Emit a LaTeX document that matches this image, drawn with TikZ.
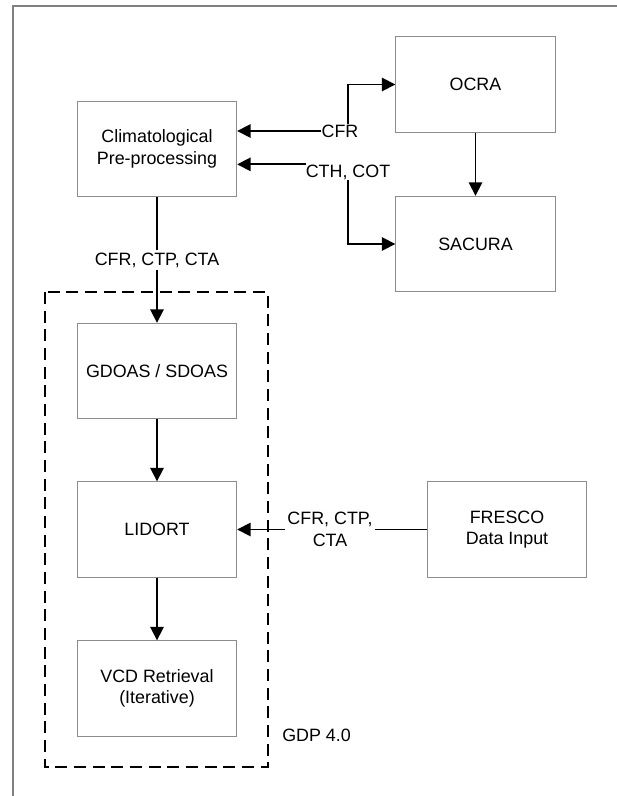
\documentclass[tikz,border=0pt]{standalone}
\usepackage{fontspec}
\setmainfont{Liberation Sans}
\usetikzlibrary{arrows.meta, positioning}

\begin{document}
\begin{tikzpicture}[x=0.75pt, y=-0.75pt,
    every node/.style={font=\fontsize{13.4}{16.3}\selectfont, align=center},
    block/.style={draw=black!45, line width=0.8pt, minimum width=119.5pt, minimum height=71.5pt},
    arr/.style={line width=1.3pt, -{Triangle[length=10pt, width=10pt]}},
    lbl/.style={fill=white, inner sep=0pt}]
    \useasboundingbox (0,0) rectangle (617,796);

    % page frame, cut at right and bottom
    \draw [black!50, line width=0.8pt] (13,796) -- (13,6) -- (617,6);

    \node [block] (clim) at (157,149) {Climatological\\Pre-processing};
    \node [block] (ocra) at (475.5,84.5) {OCRA};
    \node [block] (sacura) at (475.5,244) {SACURA};

    \node [block] (gdoas) at (157,371) {GDOAS / SDOAS};
    \node [block] (lidort) at (157,529.5) {LIDORT};
    \node [block] (vcd) at (157,688.5) {VCD Retrieval\\(Iterative)};
    \node [block] (fresco) at (507,529.5) {FRESCO\\Data Input};

    \node [lbl] (cfr) at (340,131) {CFR};
    \node [lbl] (cth) at (348,172) {CTH, COT};
    \node [lbl, inner sep=1.5pt] (frescodata) at (330,529.5) {CFR, CTP,\\CTA};

    % GDP 4.0 dashed frame
    \draw [dash pattern=on 9pt off 5pt, line width=1.3pt] (45,292) rectangle (268,767);
    \node [anchor=west, inner sep=0pt] (gdp) at (282,735) {GDP 4.0};

    % climatological links
    \draw [arr] (cfr.north -| cth.south) -- (cth.south |- ocra.west) -- (ocra.west);
    \draw [arr] (cfr.west) -- (cfr.west -| clim.east);
    \draw [arr] (cth.south) -- (cth.south |- sacura.west) -- (sacura.west);
    \draw [arr] (cth.north west) -- (cth.north west -| clim.east);
    \draw [arr] (ocra) -- (sacura);

    \draw [arr] (clim) -- node [fill=white, inner sep=2pt] {CFR, CTP, CTA} (gdoas);
    \draw [arr] (gdoas) -- (lidort);
    \draw [arr] (lidort) -- (vcd);

    % FRESCO input
    \draw [line width=1.3pt] (fresco.west) -- (frescodata.east);
    \draw [arr] (frescodata.west) -- (lidort.east);

\end{tikzpicture}
\end{document}
